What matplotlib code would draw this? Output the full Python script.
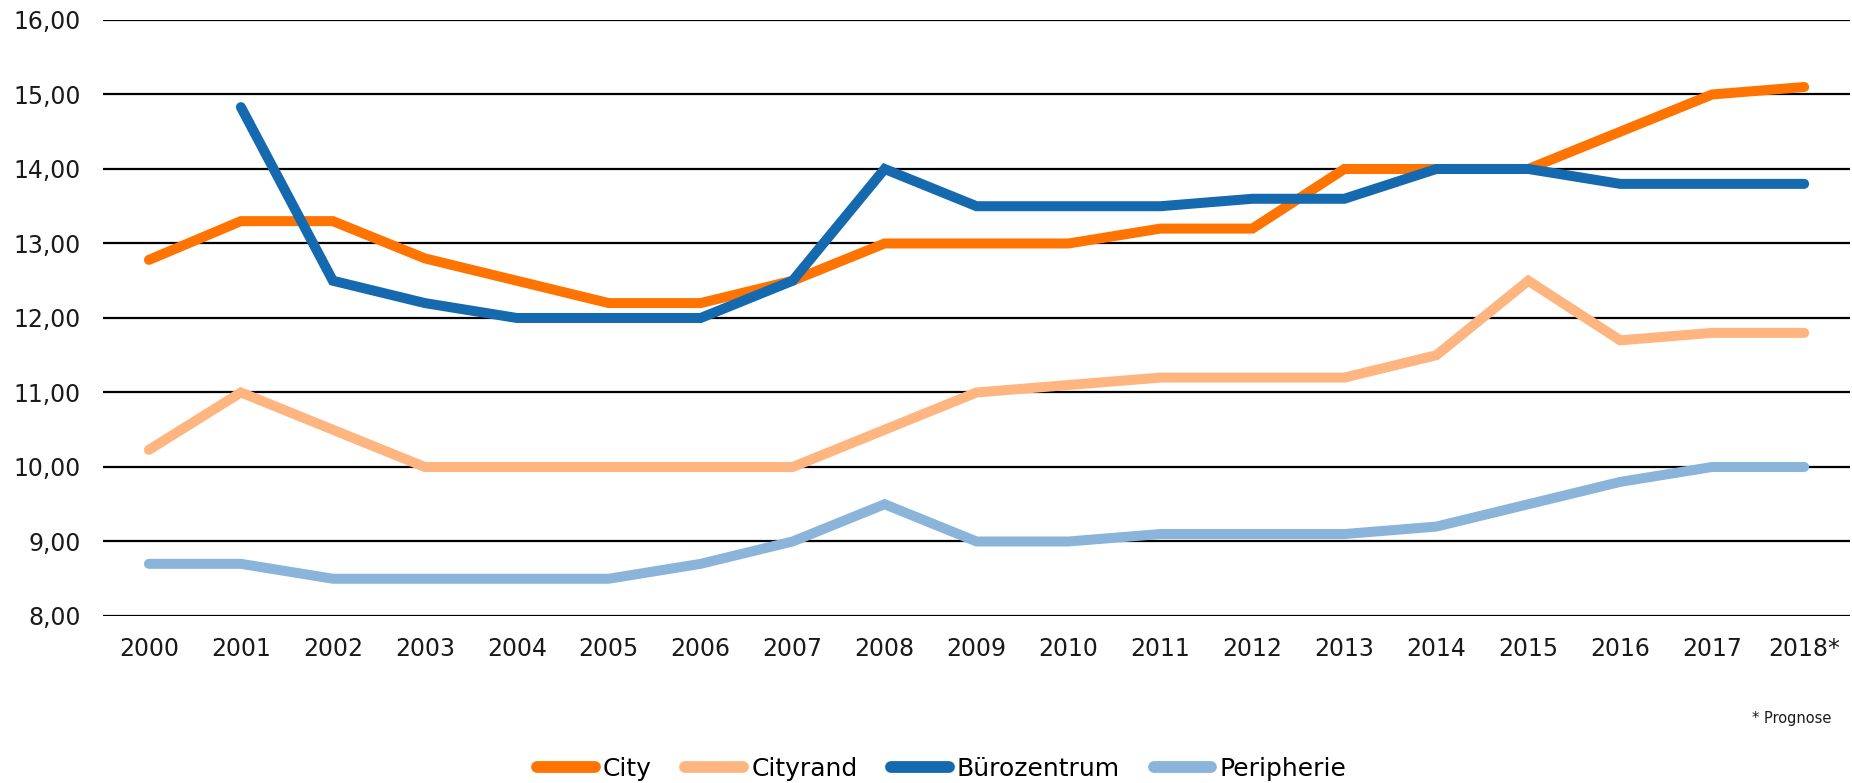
import matplotlib
matplotlib.use("Agg")
import matplotlib.pyplot as plt
import numpy as np

years = ["2000", "2001", "2002", "2003", "2004", "2005", "2006", "2007", "2008", "2009",
         "2010", "2011", "2012", "2013", "2014", "2015", "2016", "2017", "2018*"]
city = [12.78, 13.3, 13.3, 12.8, 12.5, 12.2, 12.2, 12.5, 13.0, 13.0,
        13.0, 13.2, 13.2, 14.0, 14.0, 14.0, 14.5, 15.0, 15.1]
cityrand = [10.23, 11.0, 10.5, 10.0, 10.0, 10.0, 10.0, 10.0, 10.5, 11.0,
            11.1, 11.2, 11.2, 11.2, 11.5, 12.5, 11.7, 11.8, 11.8]
buerozentrum = [np.nan, 14.83, 12.5, 12.2, 12.0, 12.0, 12.0, 12.5, 14.0, 13.5,
                13.5, 13.5, 13.6, 13.6, 14.0, 14.0, 13.8, 13.8, 13.8]
peripherie = [8.7, 8.7, 8.5, 8.5, 8.5, 8.5, 8.7, 9.0, 9.5, 9.0,
              9.0, 9.1, 9.1, 9.1, 9.2, 9.5, 9.8, 10.0, 10.0]
yticks = [8, 9, 10, 11, 12, 13, 14, 15, 16]

series = [("City", city, "#FF7300"),
          ("Cityrand", cityrand, "#FFB580"),
          ("Bürozentrum", buerozentrum, "#1569AF"),
          ("Peripherie", peripherie, "#8AB4D9")]

plt.rcParams["font.family"] = ["DejaVu Sans"]

fig = plt.figure(figsize=(18.52, 7.83), dpi=100)
ax = fig.add_axes([0.0556, 0.2133, 0.9434, 0.7612])

x = np.arange(len(years))
for name, vals, col in series:
    ax.plot(x, vals, color=col, lw=7.2, solid_capstyle="round",
            solid_joinstyle="miter", label=name, zorder=3)

ax.set_ylim(8, 16)
ax.set_xlim(-0.5, 18.5)
ax.set_yticks(yticks)
ax.set_yticklabels([f"{v:.2f}".replace(".", ",") for v in yticks])
ax.set_xticks(x)
ax.set_xticklabels(years)
ax.grid(axis="y", color="black", lw=1.6, zorder=1)
ax.set_axisbelow(True)
for s in ax.spines.values():
    s.set_visible(False)
ax.tick_params(axis="both", length=0, labelsize=17, colors="#1a1a1a")
ax.tick_params(axis="y", pad=16)
ax.tick_params(axis="x", pad=15)

fig.text(0.9887, 1 - 719 / 783, "* Prognose", ha="right", va="center",
         fontsize=10.5, color="#1a1a1a")

leg = fig.legend(loc="center", bbox_to_anchor=(0.5085, 0.018), ncol=4,
                 frameon=False, handlelength=2.3, handletextpad=0.33,
                 columnspacing=1.35, prop={"size": 18})
for h in leg.get_lines():
    h.set_linewidth(8.5)

fig.savefig("out.png", dpi=100)
